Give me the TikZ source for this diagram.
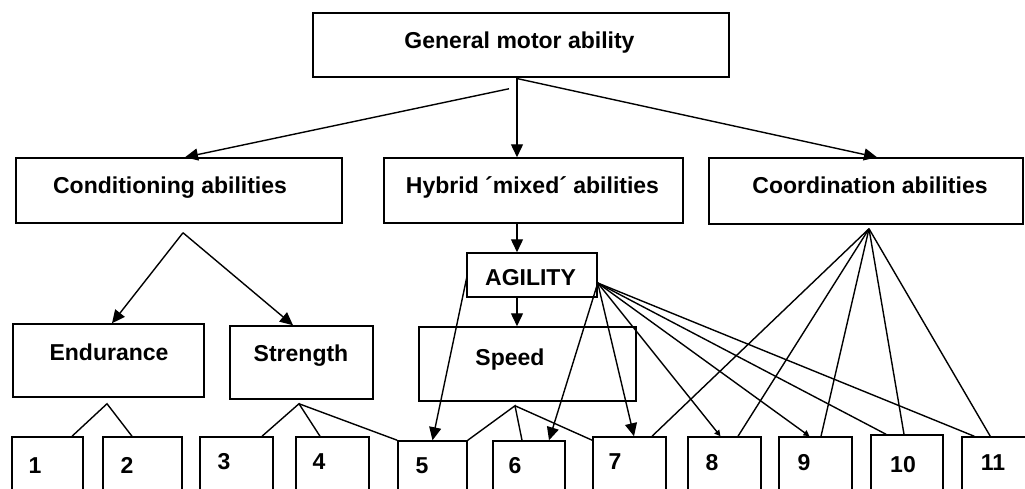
\documentclass[tikz,border=0pt]{standalone}
\usepackage{fontspec}
\setmainfont{Liberation Sans}
\usetikzlibrary{arrows.meta,calc,fit}
\tikzset{
  box/.style={draw, line width=1.5pt, rectangle, inner sep=0pt},
  lbl/.style={font=\bfseries\fontsize{23}{27}\selectfont, inner sep=0pt, anchor=base},
  ln/.style={line width=1.4pt},
  arr/.style={ln, -{Triangle[length=13pt,width=12pt]}},
  sarr/.style={ln, -{Triangle[length=6pt,width=6pt]}},
}
\begin{document}
\begin{tikzpicture}[x=1pt,y=-1pt]
\clip (0,0) rectangle (1025,488);
\fill[white] (0,0) rectangle (1025,488);

% level 0
\node[box, fit={(313,13) (729,77)}] (gen) {};
\node[lbl] (gen-t) at (519.5,48) {General motor ability};

% level 1
\node[box, fit={(16,158) (342,223)}] (cond) {};
\node[lbl] (cond-t) at (170,193) {Conditioning abilities};
\node[box, fit={(384,158) (683,223)}] (hyb) {};
\node[lbl] (hyb-t) at (532.5,193) {Hybrid ´mixed´ abilities};
\node[box, fit={(709,158) (1023,224)}] (coord) {};
\node[lbl] (coord-t) at (870,193) {Coordination abilities};

% level 2
\node[box, fit={(467,253) (597,297)}] (agil) {};
\node[lbl] (agil-t) at (530.5,285) {AGILITY};
\node[box, fit={(13,324) (204,397)}] (endu) {};
\node[lbl] (endu-t) at (109,360) {Endurance};
\node[box, fit={(230,326) (373,399)}] (stre) {};
\node[lbl] (stre-t) at (301,361) {Strength};
\node[box, fit={(419,327) (636,401)}] (speed) {};
\node[lbl] (speed-t) at (510,365) {Speed};

% numbered boxes
\node[box, fit={(12,437) (83,500)}] (b1) {};
\node[lbl] (b1-t) at (35,473) {1};
\node[box, fit={(103,437) (182,500)}] (b2) {};
\node[lbl] (b2-t) at (127,473) {2};
\node[box, fit={(200,437) (273,500)}] (b3) {};
\node[lbl] (b3-t) at (224,469) {3};
\node[box, fit={(296,437) (369,500)}] (b4) {};
\node[lbl] (b4-t) at (319,469) {4};
\node[box, fit={(398,441) (467,500)}] (b5) {};
\node[lbl] (b5-t) at (422,473) {5};
\node[box, fit={(493,441) (565,500)}] (b6) {};
\node[lbl] (b6-t) at (515,473) {6};
\node[box, fit={(593,437) (666,500)}] (b7) {};
\node[lbl] (b7-t) at (615,469) {7};
\node[box, fit={(688,437) (761,500)}] (b8) {};
\node[lbl] (b8-t) at (712,470) {8};
\node[box, fit={(779,437) (852,500)}] (b9) {};
\node[lbl] (b9-t) at (804,470) {9};
\node[box, fit={(871,435) (943,500)}] (b10) {};
\node[lbl] (b10-t) at (903,472) {10};
\node[box, fit={(962,437) (1040,500)}] (b11) {};
\node[lbl] (b11-t) at (993,470) {11};

% fork points below boxes
\coordinate (condfork) at ($(cond.south)+(4,9)$);
\coordinate (endufork) at ($(endu.south)+(-1.5,6)$);
\coordinate (strefork) at ($(stre.south)+(-2.5,4)$);
\coordinate (speedfork) at ($(speed.south)+(-12.5,4)$);
\coordinate (coordfork) at ($(coord.south)+(3,4)$);
\coordinate (agilL) at ($(agil.west)+(1,0)$);
\coordinate (agilR) at ($(agil.east)+(0,8)$);

% top level arrows
\draw[arr] ($(gen.south)+(-12,11)$) -- ($(cond.north)+(6,0)$);
\draw[arr] ($(gen.south)+(-4,0)$) -- ($(hyb.north)+(-16.5,0)$);
\draw[arr] ($(gen.south)+(-3,1)$) -- ($(coord.north)+(11,0)$);

% conditioning branch
\draw[arr] (condfork) -- ($(endu.north)+(3.5,0)$);
\draw[arr] (condfork) -- ($(stre.north)+(-8.5,0)$);

% hybrid chain
\draw[arr] ($(hyb.south)+(-16.5,0)$) -- ($(agil.north)+(-15,0)$);
\draw[arr] ($(agil.south)+(-15,0)$) -- ($(speed.north)+(-10.5,0)$);

% endurance / strength / speed forks
\draw[ln] ($(b1.north)+(24.5,0)$) -- (endufork) -- ($(b2.north)+(-10.5,0)$);
\draw[ln] ($(b3.north)+(25.5,0)$) -- (strefork) -- ($(b4.north)+(-12.5,0)$);
\draw[ln] (strefork) -- (b5.north west);
\draw[ln] (b5.north east) -- (speedfork) -- ($(b6.north)+(-7,0)$);
\draw[ln] (speedfork) -- ($(b7.north west)+(0,4)$);

% agility links
\draw[arr] (agilL) -- (b5.north);
\draw[arr] (agilR) -- ($(b6.north)+(20,0)$);
\draw[arr] (agilR) -- ($(b7.north)+(4.5,0)$);
\draw[sarr] (agilR) -- ($(b8.north)+(-4,0)$);
\draw[sarr] (agilR) -- ($(b9.north)+(-6,0)$);
\draw[ln] (agilR) -- ($(b10.north)+(-21,0)$);
\draw[ln] (agilR) -- ($(b11.north west)+(13,0)$);

% coordination links
\draw[ln] (coordfork) -- ($(b7.north)+(22.5,0)$);
\draw[ln] (coordfork) -- ($(b8.north)+(13.5,0)$);
\draw[ln] (coordfork) -- ($(b9.north)+(5.5,0)$);
\draw[ln] (coordfork) -- ($(b10.north)+(-3,0)$);
\draw[ln] (coordfork) -- ($(b11.north west)+(29,0)$);
\end{tikzpicture}
\end{document}
